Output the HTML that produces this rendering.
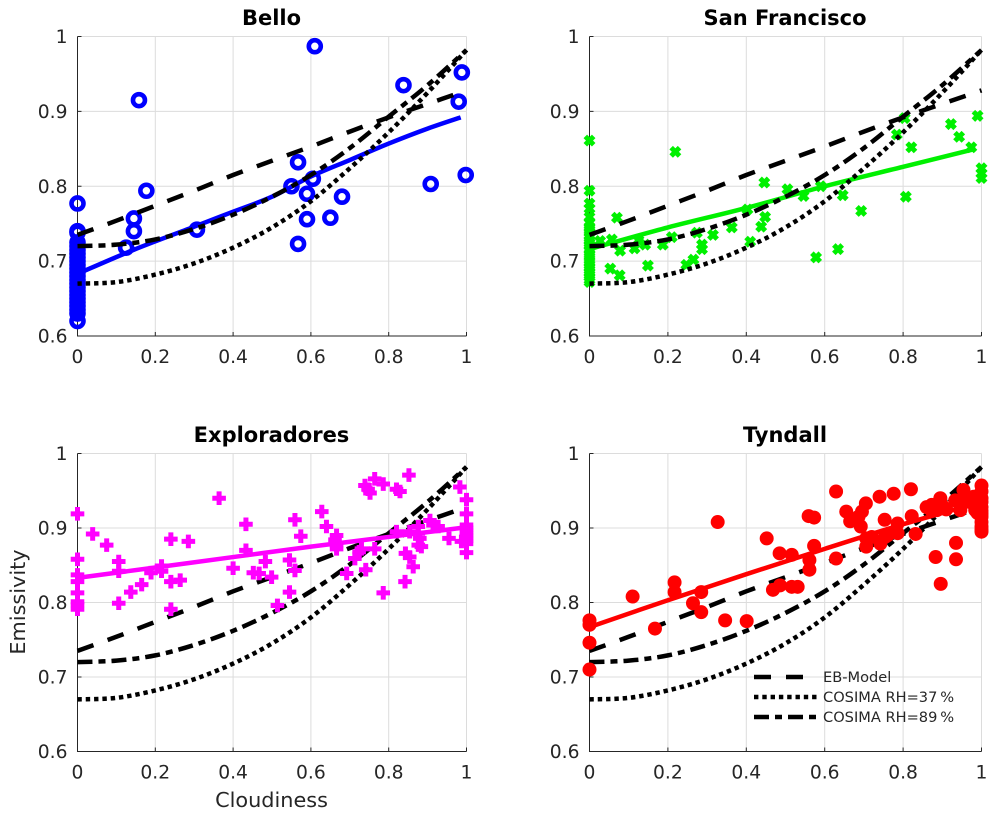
<!DOCTYPE html>
<html lang="en">
<head>
<meta charset="utf-8">
<title>Emissivity vs Cloudiness</title>
<style>
html,body{margin:0;padding:0;background:#fff;}
svg{display:block;font-family:"DejaVu Sans","Liberation Sans",sans-serif;}
</style>
</head>
<body>
<svg id="chart" xmlns="http://www.w3.org/2000/svg" width="997" height="817" viewBox="0 0 997 817"></svg>
<script>
const xTicks = [0, 0.2, 0.4, 0.6, 0.8, 1];
const xTickLabels = ['0', '0.2', '0.4', '0.6', '0.8', '1'];
const yTicks = [0.6, 0.7, 0.8, 0.9, 1];
const yTickLabels = ['0.6', '0.7', '0.8', '0.9', '1'];

const modelCloud = [0, 0.1, 0.2, 0.3, 0.4, 0.5, 0.6, 0.7, 0.8, 0.9, 1];
const ebModel = [0.735, 0.754, 0.774, 0.794, 0.815, 0.834, 0.853, 0.873, 0.892, 0.91, 0.928];
const cosima37 = [0.67, 0.672, 0.682, 0.697, 0.718, 0.745, 0.78, 0.824, 0.872, 0.925, 0.982];
const cosima89 = [0.72, 0.722, 0.729, 0.743, 0.762, 0.786, 0.815, 0.851, 0.893, 0.935, 0.982];

const belloX = [0,0,0,0,0,0,0,0,0,0,0,0,0,0,0,0,0,0,0,0,0,0,0,0, 0.125,0.145,0.145,0.158,0.177,0.307,0.55,0.567,0.567,0.59,0.59,0.61,0.605,0.65,0.68,0.838,0.908,0.98,0.988,0.998];
const belloY = [0.777,0.74,0.738,0.725,0.72,0.715,0.71,0.705,0.7,0.695,0.69,0.685,0.68,0.675,0.67,0.665,0.66,0.655,0.65,0.645,0.64,0.635,0.63,0.62, 0.718,0.757,0.74,0.915,0.794,0.742,0.8,0.832,0.723,0.756,0.79,0.987,0.81,0.758,0.786,0.935,0.803,0.913,0.952,0.815];
const belloFitX = [0, 0.144, 0.3, 0.4, 0.5, 0.6, 0.7, 0.8, 0.9, 0.985];
const belloFitY = [0.683, 0.715, 0.746, 0.766, 0.786, 0.813, 0.835, 0.857, 0.877, 0.892];

const sanFranciscoX = [0,0,0,0,0,0,0,0,0,0,0,0,0,0,0,0,0,0,0,0,0,0,0,0, 0.07,0.027,0.057,0.053,0.077,0.078,0.115,0.125,0.142,0.149,0.187,0.21,0.219,0.247,0.265,0.274,0.287,0.287,0.315,0.363,0.41,0.403,0.438,0.446,0.448,0.505,0.546,0.578,0.59,0.634,0.646,0.693,0.784,0.804,0.807,0.821,0.922,0.943,0.974,0.99,1,1,1];
const sanFranciscoY = [0.861,0.794,0.777,0.77,0.759,0.751,0.746,0.742,0.738,0.733,0.728,0.724,0.72,0.715,0.71,0.706,0.701,0.697,0.692,0.688,0.684,0.679,0.675,0.672, 0.758,0.727,0.729,0.69,0.681,0.714,0.717,0.728,0.722,0.694,0.722,0.732,0.846,0.695,0.702,0.738,0.722,0.716,0.735,0.745,0.726,0.769,0.746,0.805,0.759,0.796,0.787,0.705,0.8,0.716,0.788,0.767,0.869,0.891,0.786,0.852,0.883,0.866,0.852,0.894,0.824,0.817,0.811];
const sanFranciscoFitX = [0, 0.2, 0.4, 0.6, 0.8, 0.985];
const sanFranciscoFitY = [0.716, 0.745, 0.771, 0.8, 0.826, 0.85];

const exploradoresX = [0,0,0,0,0,0,0,0, 0.039,0.075,0.106,0.106,0.106,0.137,0.165,0.189,0.216,0.216,0.24,0.24,0.24,0.264,0.285,0.364,0.4,0.433,0.433,0.452,0.467,0.483,0.499,0.514,0.545,0.545,0.559,0.559,0.574,0.628,0.64,0.666,0.662,0.666,0.666,0.692,0.713,0.724,0.73,0.741,0.739,0.747,0.752,0.764,0.786,0.764,0.786,0.82,0.829,0.852,0.82,0.842,0.843,0.854,0.863,0.854,0.876,0.876,0.88,0.876,0.884,0.906,0.914,0.927,0.955,0.983,0.987,1,1,1,1,1,1,1,1,1,1,1];
const exploradoresY = [0.919,0.858,0.837,0.828,0.813,0.801,0.797,0.791, 0.892,0.877,0.855,0.842,0.799,0.814,0.824,0.84,0.849,0.842,0.885,0.828,0.791,0.83,0.882,0.94,0.846,0.905,0.87,0.84,0.839,0.855,0.834,0.796,0.857,0.814,0.911,0.843,0.889,0.922,0.902,0.89,0.884,0.877,0.872,0.839,0.859,0.868,0.872,0.844,0.957,0.952,0.947,0.966,0.959,0.872,0.813,0.952,0.949,0.971,0.895,0.828,0.866,0.861,0.848,0.895,0.902,0.893,0.886,0.877,0.875,0.91,0.904,0.902,0.886,0.955,0.882,0.938,0.919,0.904,0.9,0.897,0.893,0.89,0.886,0.883,0.879,0.867];
const exploradoresFitX = [0, 0.2, 0.4, 0.6, 0.8, 1];
const exploradoresFitY = [0.833, 0.847, 0.861, 0.875, 0.888, 0.901];

const tyndallX = [0,0,0,0, 0.11,0.167,0.217,0.217,0.264,0.285,0.285,0.327,0.346,0.401,0.452,0.468,0.485,0.486,0.516,0.516,0.531,0.559,0.573,0.561,0.561,0.573,0.629,0.629,0.655,0.665,0.686,0.695,0.705,0.692,0.706,0.706,0.72,0.74,0.776,0.753,0.742,0.754,0.76,0.786,0.786,0.82,0.822,0.832,0.86,0.873,0.895,0.886,0.87,0.9,0.91,0.933,0.954,0.946,0.935,0.935,0.883,0.896,0.96,0.97,0.98,0.984,0.99,0.99,0.99,1,1,1,1,1,1,1,1,1,1,1,1];
const tyndallY = [0.776,0.77,0.746,0.71, 0.808,0.765,0.827,0.814,0.799,0.814,0.787,0.908,0.776,0.775,0.886,0.817,0.866,0.823,0.864,0.821,0.821,0.916,0.914,0.857,0.844,0.876,0.949,0.859,0.922,0.909,0.915,0.922,0.933,0.902,0.886,0.875,0.888,0.942,0.946,0.911,0.879,0.888,0.89,0.906,0.893,0.952,0.916,0.892,0.928,0.931,0.94,0.924,0.925,0.93,0.925,0.937,0.951,0.924,0.88,0.858,0.861,0.825,0.94,0.935,0.942,0.924,0.935,0.93,0.92,0.957,0.949,0.94,0.935,0.928,0.923,0.919,0.915,0.908,0.902,0.898,0.895];
const tyndallFitX = [0, 0.2, 0.4, 0.6, 0.8, 1];
const tyndallFitY = [0.767, 0.803, 0.838, 0.872, 0.905, 0.935];

const NS = 'http://www.w3.org/2000/svg';
const chart = document.getElementById('chart');
const TEXT = '#262626';

function make(parent, tag, attrs) {
  const el = document.createElementNS(NS, tag);
  for (const k in attrs) el.setAttribute(k, attrs[k]);
  parent.appendChild(el);
  return el;
}

/* Smooth curve through the data points (Catmull-Rom converted to cubic Bezier). */
function pathFrom(xs, ys, sx, sy) {
  const pts = xs.map((v, i) => [sx(v), sy(ys[i])]);
  let d = 'M' + pts[0][0].toFixed(2) + ' ' + pts[0][1].toFixed(2);
  for (let i = 0; i < pts.length - 1; i++) {
    const p0 = pts[Math.max(i - 1, 0)];
    const p1 = pts[i];
    const p2 = pts[i + 1];
    const p3 = pts[Math.min(i + 2, pts.length - 1)];
    const c1x = p1[0] + (p2[0] - p0[0]) / 6;
    const c1y = p1[1] + (p2[1] - p0[1]) / 6;
    const c2x = p2[0] - (p3[0] - p1[0]) / 6;
    const c2y = p2[1] - (p3[1] - p1[1]) / 6;
    d += 'C' + c1x.toFixed(2) + ' ' + c1y.toFixed(2) + ' ' + c2x.toFixed(2) + ' ' + c2y.toFixed(2) + ' ' + p2[0].toFixed(2) + ' ' + p2[1].toFixed(2);
  }
  return d;
}

const modelStyles = {
  eb: { dash: '17 15', name: 'eb-model-line' },
  c37: { dash: '4.4 3.9', name: 'cosima-rh37-line' },
  c89: { dash: '15 6 7 6', name: 'cosima-rh89-line' }
};

function drawModels(g, sx, sy) {
  const sets = [['eb', ebModel], ['c37', cosima37], ['c89', cosima89]];
  sets.forEach(function (s) {
    const st = modelStyles[s[0]];
    const line = make(g, 'path', { d: pathFrom(modelCloud, s[1], sx, sy), fill: 'none', stroke: '#000', 'stroke-width': 4.5, 'stroke-dasharray': st.dash });
    
    
  });
}

function drawMarker(g, kind, color, px, py) {
  let m;
  if (kind === 'circle') {
    m = make(g, 'circle', { cx: px, cy: py, r: 6, fill: 'none', stroke: color, 'stroke-width': 4.6 });
  } else if (kind === 'disc') {
    m = make(g, 'circle', { cx: px, cy: py, r: 7, fill: color });
  } else if (kind === 'x') {
    const r = 4.2;
    m = make(g, 'path', { d: `M${px - r} ${py - r}L${px + r} ${py + r}M${px - r} ${py + r}L${px + r} ${py - r}`, fill: 'none', stroke: color, 'stroke-width': 5 });
  } else {
    const r = 6.8;
    m = make(g, 'path', { d: `M${px - r} ${py}L${px + r} ${py}M${px} ${py - r}L${px} ${py + r}`, fill: 'none', stroke: color, 'stroke-width': 5 });
  }
  return m;
}

function drawPanel(p) {
  const sx = v => p.left + v * (p.right - p.left);
  const sy = v => p.bottom - (v - 0.6) / 0.4 * (p.bottom - p.top);
  const g = make(chart, 'g', {});
  
  

  xTicks.forEach(function (t, i) {
    if (t > 0) {
      const gl = make(g, 'line', { x1: sx(t), x2: sx(t), y1: p.top, y2: p.bottom, stroke: '#dcdcdc', 'stroke-width': 1 });
      
      
    }
    const tk = make(g, 'line', { x1: sx(t), x2: sx(t), y1: p.bottom, y2: p.bottom - 4, stroke: TEXT, 'stroke-width': 1 });
    
    
    const lb = make(g, 'text', { x: sx(t), y: p.bottom + 27, 'text-anchor': 'middle', 'font-size': 18.7, fill: TEXT });
    lb.textContent = xTickLabels[i];
    
    
  });
  yTicks.forEach(function (t, i) {
    if (t > 0.6) {
      const gl = make(g, 'line', { x1: p.left, x2: p.right, y1: sy(t), y2: sy(t), stroke: '#dcdcdc', 'stroke-width': 1 });
      
      
    }
    const tk = make(g, 'line', { x1: p.left, x2: p.left + 4, y1: sy(t), y2: sy(t), stroke: TEXT, 'stroke-width': 1 });
    
    
    const lb = make(g, 'text', { x: p.left - 10, y: sy(t) + 6.5, 'text-anchor': 'end', 'font-size': 18.7, fill: TEXT });
    lb.textContent = yTickLabels[i];
    
    
  });

  const ax = make(g, 'path', { d: `M${p.left} ${p.top}V${p.bottom}H${p.right}`, fill: 'none', stroke: TEXT, 'stroke-width': 1 });
  
  

  const title = make(g, 'text', { x: (p.left + p.right) / 2 - 0.5, y: p.top - 11.5, 'text-anchor': 'middle', 'font-size': 21, 'font-weight': 'bold', fill: '#000' });
  title.textContent = p.title;
  
  

  const marks = make(g, 'g', {});
  
  
  const models = make(g, 'g', {});
  
  
  if (!p.modelsOnTop) g.insertBefore(models, marks);

  p.xs.forEach(function (v, i) {
    const m = drawMarker(marks, p.marker, p.color, sx(v), sy(p.ys[i]));
    
    
  });
  const fit = make(marks, 'path', { d: pathFrom(p.fitX, p.fitY, sx, sy), fill: 'none', stroke: p.color, 'stroke-width': 4.5 });
  
  
  drawModels(models, sx, sy);
}

const panels = [
  { id: 'bello', title: 'Bello', left: 77.5, right: 466.5, top: 36.5, bottom: 336, marker: 'circle', color: '#0000ff', xs: belloX, ys: belloY, fitX: belloFitX, fitY: belloFitY, modelsOnTop: true },
  { id: 'san-francisco', title: 'San Francisco', left: 589.5, right: 981.5, top: 36.5, bottom: 336, marker: 'x', color: '#00f000', xs: sanFranciscoX, ys: sanFranciscoY, fitX: sanFranciscoFitX, fitY: sanFranciscoFitY, modelsOnTop: true },
  { id: 'exploradores', title: 'Exploradores', left: 77.5, right: 466.5, top: 453.5, bottom: 751.5, marker: 'plus', color: '#ff00ff', xs: exploradoresX, ys: exploradoresY, fitX: exploradoresFitX, fitY: exploradoresFitY, modelsOnTop: false },
  { id: 'tyndall', title: 'Tyndall', left: 589.5, right: 981.5, top: 453.5, bottom: 751.5, marker: 'disc', color: '#ff0000', xs: tyndallX, ys: tyndallY, fitX: tyndallFitX, fitY: tyndallFitY, modelsOnTop: false }
];
panels.forEach(drawPanel);

const xTitle = make(chart, 'text', { x: 271.5, y: 807, 'text-anchor': 'middle', 'font-size': 20.8, fill: TEXT });
xTitle.textContent = 'Cloudiness';



const yTitle = make(chart, 'text', { x: 0, y: 0, transform: 'translate(25 602) rotate(-90)', 'text-anchor': 'middle', 'font-size': 20.8, fill: TEXT });
yTitle.textContent = 'Emissivity';



const legendLabels = ['EB-Model', 'COSIMA RH=37\u2009%', 'COSIMA RH=89\u2009%'];
const legendKeys = ['eb', 'c37', 'c89'];
const legend = make(chart, 'g', {});


legendLabels.forEach(function (label, i) {
  const rowY = 677 + i * 20;
  const key = make(legend, 'line', { x1: 754, x2: 817, y1: rowY, y2: rowY, stroke: '#000', 'stroke-width': 4.5, 'stroke-dasharray': modelStyles[legendKeys[i]].dash });
  
  
  const tx = make(legend, 'text', { x: 823, y: rowY + 5, 'font-size': 14.6, fill: TEXT });
  tx.textContent = label;
  
  
});
</script>
</body>
</html>
